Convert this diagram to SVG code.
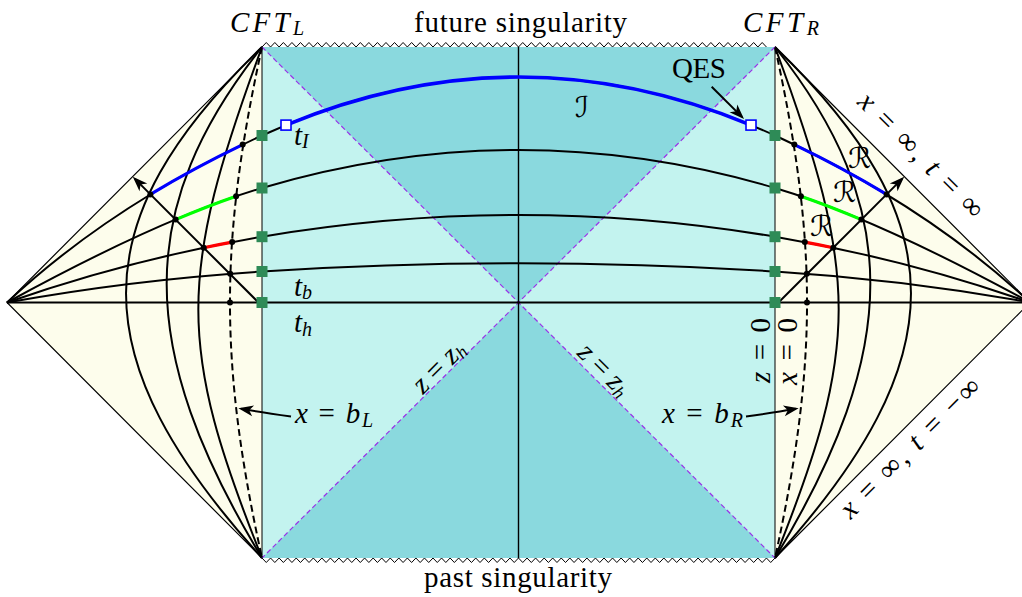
<svg xmlns="http://www.w3.org/2000/svg" xmlns:xlink="http://www.w3.org/1999/xlink" width="1022" height="597" viewBox="0 0 1022 597">
<defs>
<style>
.tx{font-family:Liberation Serif,DejaVu Serif,serif;font-size:29px;fill:#000}
.it{font-style:italic}
.cal{font-family:DejaVu Sans,DejaVu Serif,sans-serif;font-style:normal}
.crv{fill:none;stroke:#000;stroke-width:2}
.thin{fill:none;stroke:#000;stroke-width:1.2}
.sq{fill:#2e8b57}
.dot{fill:#000}
.qes{fill:#fff;stroke:#00f;stroke-width:1.6}
</style>
<marker id="ah" viewBox="-16 -7 18 14" refX="-3" refY="0" markerWidth="18" markerHeight="14" markerUnits="userSpaceOnUse" orient="auto">
<path d="M0,0 L-15,-5.5 L-11,0 L-15,5.5 Z" fill="#000"/>
</marker>
<g id="bathBg">
<polygon points="7,302.5 262,47 262,558" fill="#fdfdec"/>
<polyline points="262,47 7,302.5 262,558" class="thin"/>
<path class="crv" d="M262,47 C80.7,222 80.7,358 262,558"/>
<path class="crv" d="M262,47 C134.9,207 134.9,348 262,558"/>
<path class="crv" d="M262,47 C177.1,277 177.1,346 262,558"/>
<path class="crv" stroke-dasharray="7 4" d="M262,47 C219.3,242 219.3,363 262,558"/>
</g>
<g id="bathFg">
<path d="M150.4,194.4 Q194.1,167.9 242.7,144.6" fill="none" stroke="#00f" stroke-width="3.2"/>
<path d="M175.6,219.6 Q207.8,206 236.1,196.2" fill="none" stroke="#00ff00" stroke-width="3.2"/>
<path d="M203.7,247.7 Q217.9,244.7 232.2,242.1" fill="none" stroke="#f00" stroke-width="3.2"/>
<path class="crv" d="M258.5,302.5 L134.9,178.9" marker-end="url(#ah)"/>
<circle class="dot" cx="242.7" cy="144.6" r="3"/>
<circle class="dot" cx="236.1" cy="196.2" r="3"/>
<circle class="dot" cx="232.2" cy="242.1" r="3"/>
<circle class="dot" cx="230.2" cy="273.8" r="3"/>
<circle class="dot" cx="230" cy="302.5" r="3"/>
<circle class="dot" cx="150.4" cy="194.4" r="3"/>
<circle class="dot" cx="175.6" cy="219.6" r="3"/>
<circle class="dot" cx="203.7" cy="247.7" r="3"/>
</g>
</defs>

<g id="interior">
<rect x="262" y="47" width="513" height="511" fill="#c3f3ef"/>
<polygon points="262,47 775,47 518.5,302.5" fill="#8ad9de"/>
<polygon points="262,558 775,558 518.5,302.5" fill="#8ad9de"/>
</g>

<g id="bath-left"><use xlink:href="#bathBg"/></g>
<g id="bath-right"><use xlink:href="#bathBg" transform="matrix(-1,0,0,1,1037,0)"/></g>

<g id="horizons">
<path d="M262,47 L775,558 M775,47 L262,558" fill="none" stroke="#9a32e8" stroke-width="1.2" stroke-dasharray="5 3"/>
</g>

<g id="boundaries">
<path d="M262,47 V558 M775,47 V558" fill="none" stroke="#000" stroke-width="1"/>
<path d="M518.5,47 V558" fill="none" stroke="#000" stroke-width="1.4"/>
</g>

<g id="slices">
<path class="crv" d="M7,302.5 Q112,204.2 262,135.5 Q518.5,18.6 775,135.5 Q925,204.2 1030,302.5"/>
<path class="crv" d="M7,302.5 Q162,217.6 262,188 Q518.5,112 775,188 Q875,217.6 1030,302.5"/>
<path class="crv" d="M7,302.5 Q132,258.7 262,236.7 Q518.5,193.3 775,236.7 Q905,258.7 1030,302.5"/>
<path class="crv" d="M7,302.5 Q132,279.8 262,271.5 Q518.5,255.1 775,271.5 Q905,279.8 1030,302.5"/>
<path class="crv" d="M7,302.5 H1030"/>
<path d="M286,125.1 Q518.5,29 751,125.1" fill="none" stroke="#00f" stroke-width="3.6"/>
</g>

<g id="radiation-left"><use xlink:href="#bathFg"/></g>
<g id="radiation-right"><use xlink:href="#bathFg" transform="matrix(-1,0,0,1,1037,0)"/></g>

<g id="singularities" fill="none" stroke="#000" stroke-width="1">
<path d="M262,47l4.275-4.5 4.275 4.5l4.275-4.5 4.275 4.5l4.275-4.5 4.275 4.5l4.275-4.5 4.275 4.5l4.275-4.5 4.275 4.5l4.275-4.5 4.275 4.5l4.275-4.5 4.275 4.5l4.275-4.5 4.275 4.5l4.275-4.5 4.275 4.5l4.275-4.5 4.275 4.5l4.275-4.5 4.275 4.5l4.275-4.5 4.275 4.5l4.275-4.5 4.275 4.5l4.275-4.5 4.275 4.5l4.275-4.5 4.275 4.5l4.275-4.5 4.275 4.5l4.275-4.5 4.275 4.5l4.275-4.5 4.275 4.5l4.275-4.5 4.275 4.5l4.275-4.5 4.275 4.5l4.275-4.5 4.275 4.5l4.275-4.5 4.275 4.5l4.275-4.5 4.275 4.5l4.275-4.5 4.275 4.5l4.275-4.5 4.275 4.5l4.275-4.5 4.275 4.5l4.275-4.5 4.275 4.5l4.275-4.5 4.275 4.5l4.275-4.5 4.275 4.5l4.275-4.5 4.275 4.5l4.275-4.5 4.275 4.5l4.275-4.5 4.275 4.5l4.275-4.5 4.275 4.5l4.275-4.5 4.275 4.5l4.275-4.5 4.275 4.5l4.275-4.5 4.275 4.5l4.275-4.5 4.275 4.5l4.275-4.5 4.275 4.5l4.275-4.5 4.275 4.5l4.275-4.5 4.275 4.5l4.275-4.5 4.275 4.5l4.275-4.5 4.275 4.5l4.275-4.5 4.275 4.5l4.275-4.5 4.275 4.5l4.275-4.5 4.275 4.5l4.275-4.5 4.275 4.5l4.275-4.5 4.275 4.5l4.275-4.5 4.275 4.5l4.275-4.5 4.275 4.5l4.275-4.5 4.275 4.5l4.275-4.5 4.275 4.5l4.275-4.5 4.275 4.5l4.275-4.5 4.275 4.5l4.275-4.5 4.275 4.5l4.275-4.5 4.275 4.5l4.275-4.5 4.275 4.5l4.275-4.5 4.275 4.5l4.275-4.5 4.275 4.5l4.275-4.5 4.275 4.5"/>
<path d="M262,558l4.275 4.5 4.275-4.5l4.275 4.5 4.275-4.5l4.275 4.5 4.275-4.5l4.275 4.5 4.275-4.5l4.275 4.5 4.275-4.5l4.275 4.5 4.275-4.5l4.275 4.5 4.275-4.5l4.275 4.5 4.275-4.5l4.275 4.5 4.275-4.5l4.275 4.5 4.275-4.5l4.275 4.5 4.275-4.5l4.275 4.5 4.275-4.5l4.275 4.5 4.275-4.5l4.275 4.5 4.275-4.5l4.275 4.5 4.275-4.5l4.275 4.5 4.275-4.5l4.275 4.5 4.275-4.5l4.275 4.5 4.275-4.5l4.275 4.5 4.275-4.5l4.275 4.5 4.275-4.5l4.275 4.5 4.275-4.5l4.275 4.5 4.275-4.5l4.275 4.5 4.275-4.5l4.275 4.5 4.275-4.5l4.275 4.5 4.275-4.5l4.275 4.5 4.275-4.5l4.275 4.5 4.275-4.5l4.275 4.5 4.275-4.5l4.275 4.5 4.275-4.5l4.275 4.5 4.275-4.5l4.275 4.5 4.275-4.5l4.275 4.5 4.275-4.5l4.275 4.5 4.275-4.5l4.275 4.5 4.275-4.5l4.275 4.5 4.275-4.5l4.275 4.5 4.275-4.5l4.275 4.5 4.275-4.5l4.275 4.5 4.275-4.5l4.275 4.5 4.275-4.5l4.275 4.5 4.275-4.5l4.275 4.5 4.275-4.5l4.275 4.5 4.275-4.5l4.275 4.5 4.275-4.5l4.275 4.5 4.275-4.5l4.275 4.5 4.275-4.5l4.275 4.5 4.275-4.5l4.275 4.5 4.275-4.5l4.275 4.5 4.275-4.5l4.275 4.5 4.275-4.5l4.275 4.5 4.275-4.5l4.275 4.5 4.275-4.5l4.275 4.5 4.275-4.5l4.275 4.5 4.275-4.5l4.275 4.5 4.275-4.5l4.275 4.5 4.275-4.5l4.275 4.5 4.275-4.5l4.275 4.5 4.275-4.5l4.275 4.5 4.275-4.5l4.275 4.5 4.275-4.5l4.275 4.5 4.275-4.5"/>
</g>

<g id="markers">
<rect class="sq" x="256.5" y="130" width="11" height="11"/>
<rect class="sq" x="256.5" y="182.5" width="11" height="11"/>
<rect class="sq" x="256.5" y="231.2" width="11" height="11"/>
<rect class="sq" x="256.5" y="266" width="11" height="11"/>
<rect class="sq" x="256.5" y="297" width="11" height="11"/>
<rect class="sq" x="769.5" y="130" width="11" height="11"/>
<rect class="sq" x="769.5" y="182.5" width="11" height="11"/>
<rect class="sq" x="769.5" y="231.2" width="11" height="11"/>
<rect class="sq" x="769.5" y="266" width="11" height="11"/>
<rect class="sq" x="769.5" y="297" width="11" height="11"/>
<rect class="qes" x="281" y="120.1" width="10" height="10"/>
<rect class="qes" x="746" y="120.1" width="10" height="10"/>
</g>

<g id="pointers">
<path class="crv" d="M711.7,86.7 L741.9,116.9" marker-end="url(#ah)"/>
<path class="crv" stroke-width="1.6" d="M291,416.5 Q262,412.5 241.3,408.8" marker-end="url(#ah)"/>
<path class="crv" stroke-width="1.6" d="M746,416.5 Q775,412.5 795.7,408.8" marker-end="url(#ah)"/>
</g>

<g id="labels" font-family="Liberation Serif, DejaVu Serif, serif">
<text class="tx it" x="230" y="31.7" textLength="74">CFT<tspan font-size="20" dy="3.5">L</tspan></text>
<text class="tx it" x="743" y="31.7" textLength="76">CFT<tspan font-size="20" dy="3.5">R</tspan></text>
<text class="tx" x="414" y="31.7" textLength="213">future singularity</text>
<text class="tx" x="424" y="587" textLength="188">past singularity</text>
<text class="tx" x="672" y="78.3" textLength="54" font-size="27" fill="#00f">QES</text>
<text class="tx cal" x="575" y="117" font-size="24" fill="#00f">ℐ</text>
<text class="tx cal" x="848" y="168" font-size="18" fill="#00f">ℛ</text>
<text class="tx cal" x="833" y="202" font-size="18" fill="#00e000">ℛ</text>
<text class="tx cal" x="810" y="235.5" font-size="18" fill="#f00">ℛ</text>
<text class="tx it" x="294" y="145">t<tspan font-size="20" dy="3.3">I</tspan></text>
<text class="tx it" x="294" y="295.5">t<tspan font-size="20" dy="3">b</tspan></text>
<text class="tx it" x="294" y="331.7">t<tspan font-size="20" dy="4.3">h</tspan></text>
<text class="tx" x="295" y="423" textLength="78"><tspan class="it">x</tspan> = <tspan class="it">b</tspan><tspan class="it" font-size="20" dy="4">L</tspan></text>
<text class="tx" x="662" y="423" textLength="81"><tspan class="it">x</tspan> = <tspan class="it">b</tspan><tspan class="it" font-size="20" dy="4">R</tspan></text>
<text class="tx" font-size="25" text-anchor="middle" textLength="62" transform="translate(445,373) rotate(-45)"><tspan class="it">z</tspan> = <tspan class="it">z</tspan><tspan class="it" font-size="18" dy="3">h</tspan></text>
<text class="tx" font-size="25" text-anchor="middle" textLength="62" transform="translate(598,376) rotate(45)"><tspan class="it">z</tspan> = <tspan class="it">z</tspan><tspan class="it" font-size="18" dy="3">h</tspan></text>
<text class="tx" font-size="28" text-anchor="middle" textLength="65" transform="translate(770,350.5) rotate(-90)"><tspan class="it">z</tspan> = 0</text>
<text class="tx" font-size="28" text-anchor="middle" textLength="67" transform="translate(797,351.5) rotate(-90)"><tspan class="it">x</tspan> = 0</text>
<text class="tx" text-anchor="middle" textLength="165" transform="translate(914.5,161.7) rotate(45)"><tspan class="it">x</tspan> = ∞, <tspan class="it">t</tspan> = ∞</text>
<text class="tx" text-anchor="middle" textLength="186" transform="translate(916.5,454.3) rotate(-45)"><tspan class="it">x</tspan> = ∞, <tspan class="it">t</tspan> = −∞</text>
</g>
</svg>
